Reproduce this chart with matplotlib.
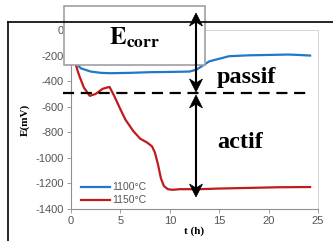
"""
E(mV) vs t(h) - corrosion potential with passive/active zones
"""
import numpy as np
import matplotlib.pyplot as plt
from matplotlib.lines import Line2D
from matplotlib.patches import Rectangle, Polygon

plt.rcParams['axes.unicode_minus'] = False
plt.rcParams['mathtext.fontset'] = 'stix'

# =============================================================================
# Data
# =============================================================================
t_1100 = [0, 0.5, 1, 2, 3, 4, 6, 8, 10, 12, 12.7, 13.3, 14, 15, 16, 18, 20, 22, 23, 24.2]
e_1100 = [-150, -260, -300, -325, -335, -338, -335, -330, -328, -325, -310, -280, -245, -225, -205, -198, -195, -192, -195, -200]

t_1150 = [0, 0.4, 0.8, 1.3, 1.9, 2.5, 3.2, 3.9, 4.4, 5.0, 5.5, 6.3, 7.0, 7.7, 8.2, 8.5, 8.8, 9.1, 9.4, 9.8, 10.3, 11, 12, 13, 15, 18, 21, 24.2]
e_1150 = [-130, -250, -350, -450, -515, -500, -460, -445, -520, -620, -700, -790, -850, -880, -910, -960, -1050, -1160, -1220, -1245, -1250, -1245, -1245, -1245, -1240, -1235, -1230, -1228]

labels = ['1100°C', '1150°C']
colors = ['#1f78c8', '#c01a1a']

W, H = 333, 241


def fx(px):
    return px / W


def fy(py):
    return 1 - py / H


def arrowhead(fig, x, tip, direction):
    # stealth-like head, direction = -1 points up, +1 points down (pixel coords)
    ln, hw, notch = 13, 6.5, 4
    pts = [(x, tip), (x - hw, tip - direction * ln), (x, tip - direction * (ln - notch)),
           (x + hw, tip - direction * ln)]
    fig.add_artist(Polygon([(fx(a), fy(b)) for a, b in pts], closed=True,
                           transform=fig.transFigure, facecolor='black', edgecolor='black', lw=0.5))


fig = plt.figure(figsize=(W / 100, H / 100), dpi=100)
ax = fig.add_axes([fx(71), fy(209), fx(318) - fx(71), fy(30) - fy(209)])

ax.plot(t_1100, e_1100, color=colors[0], lw=1.6, label=labels[0])
ax.plot(t_1150, e_1150, color=colors[1], lw=1.6, label=labels[1])

ax.set_xlim(0, 25)
ax.set_ylim(-1400, 0)
ax.set_xticks([0, 5, 10, 15, 20, 25])
ax.set_yticks(np.arange(-1400, 1, 200))
for s in ['top', 'right']:
    ax.spines[s].set_color('#d0d0d0')
    ax.spines[s].set_linewidth(0.6)
for s in ['left', 'bottom']:
    ax.spines[s].set_color('#909090')
    ax.spines[s].set_linewidth(0.8)
ax.tick_params(labelsize=8, colors='#909090', labelcolor='#555555', length=3, width=0.6, pad=2)
for lab in ax.get_xticklabels() + ax.get_yticklabels():
    lab.set_fontfamily('Liberation Sans')

ax.set_xlabel('t (h)', fontsize=8, fontweight='bold', family='Liberation Serif', labelpad=0)
ax.set_ylabel('E(mV)', fontsize=8, fontweight='bold', family='Liberation Serif', labelpad=4)

leg = ax.legend(loc='lower left', bbox_to_anchor=(0.01, -0.02), frameon=False,
                prop={'family': 'Liberation Sans', 'size': 7.5}, handlelength=2.8,
                handletextpad=0.2, labelspacing=0.3, borderpad=0.2)
for txt in leg.get_texts():
    txt.set_color('#555555')

# =============================================================================
# Annotations (figure coordinates)
# =============================================================================
# outer frame
fig.add_artist(Line2D([fx(8), fx(8)], [fy(22), 0], color='black', lw=1.2))
fig.add_artist(Line2D([fx(8), 1], [fy(22), fy(22)], color='black', lw=1.2))

# Ecorr box
fig.add_artist(Rectangle((fx(64), fy(65)), fx(205) - fx(64), fy(6) - fy(65),
                         transform=fig.transFigure, facecolor='white', edgecolor='#a0a0a0', lw=1.2))
fig.text(fx(134), fy(38), r'$\mathbf{E}_{\mathbf{corr}}$', fontsize=18, ha='center', va='center')

# dashed limit line
fig.add_artist(Line2D([fx(63), fx(311)], [fy(93), fy(93)], color='black', lw=1.6, ls=(0, (5, 3))))

# arrows
xa = 196
fig.add_artist(Line2D([fx(xa), fx(xa)], [fy(20), fy(84)], color='black', lw=1.5))
fig.add_artist(Line2D([fx(xa), fx(xa)], [fy(102), fy(188)], color='black', lw=1.5))
arrowhead(fig, xa, 13, -1)
arrowhead(fig, xa, 92, 1)
arrowhead(fig, xa, 95, -1)
arrowhead(fig, xa, 197, 1)

fig.text(fx(217), fy(77), 'passif', fontsize=17.5, fontweight='bold', family='Liberation Serif',
         ha='left', va='center')
fig.text(fx(217), fy(143), 'actif', fontsize=17.5, fontweight='bold', family='Liberation Serif',
         ha='left', va='center')

fig.savefig('out.png', dpi=100)
